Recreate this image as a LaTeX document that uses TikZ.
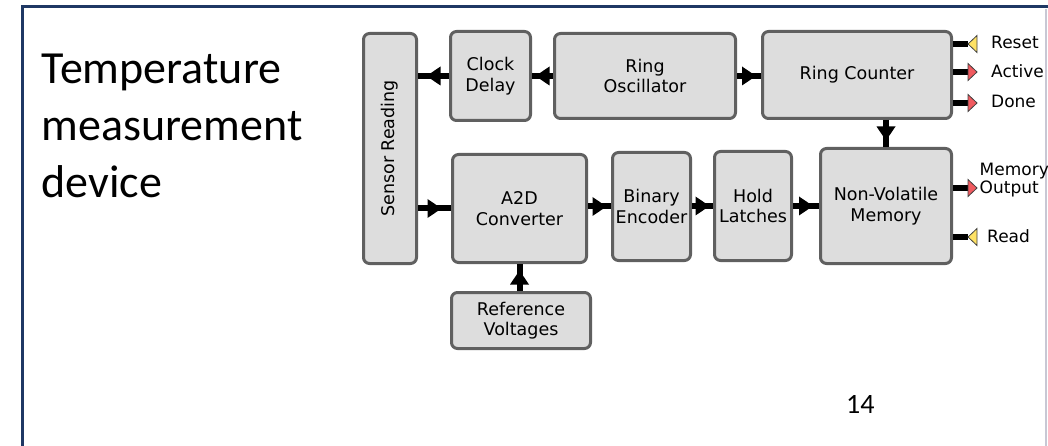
\documentclass[tikz,border=0pt]{standalone}
\usepackage{fontspec}
\setmainfont{DejaVu Sans}
\newfontfamily\titlefont{Carlito}
\usetikzlibrary{decorations.markings}
\definecolor{boxfill}{RGB}{221,221,221}
\definecolor{boxline}{RGB}{96,96,96}
\definecolor{navy}{RGB}{31,56,100}
\definecolor{sigyellow}{RGB}{255,226,100}
\definecolor{sigred}{RGB}{240,90,95}
\definecolor{framegray}{RGB}{200,200,212}
\begin{document}
\begin{tikzpicture}[x=1pt,y=-1pt,
  blk/.style={draw=boxline, fill=boxfill, line width=3pt, rounded corners=6pt,
    inner sep=0pt, align=center, font=\fontsize{17.5}{20.5}\selectfont},
  arr/.style={line width=6pt, decoration={markings, mark=at position 0.5 with
    {\fill (-7pt,-9.5pt) -- (7pt,0pt) -- (-7pt,9.5pt) -- cycle;}},
    postaction={decorate}},
  sig/.style={line width=5.5pt},
  tri/.style={draw=black!75, line width=0.8pt, line join=miter},
  lbl/.style={font=\fontsize{17}{17.5}\selectfont, inner sep=0pt, align=left},
]
\useasboundingbox (0,0) rectangle (1048,446);
% frame
\draw[navy, line width=3pt] (22,446) -- (22,7) -- (1048,7);
\draw[framegray, line width=1.5pt] (1046,9) -- (1046,446);
% title and page number
\node[anchor=north west, inner sep=0pt, align=left,
  font=\titlefont\fontsize{46}{57}\selectfont] (title) at (41.5,53.4)
  {Temperature\\measurement\\device};
\node[anchor=base west, inner sep=0pt, font=\titlefont\fontsize{28}{32}\selectfont]
  (page) at (846,413) {14};
% blocks
\node[blk, minimum width=53pt, minimum height=230pt] (sensor) at (390,148.5)
  {\rotatebox{90}{Sensor Reading}};
\node[blk, minimum width=80pt, minimum height=89pt] (clock) at (490.5,76) {Clock\\Delay};
\node[blk, minimum width=181pt, minimum height=85pt] (osc) at (645,76) {Ring\\Oscillator};
\node[blk, minimum width=189pt, minimum height=87pt] (counter) at (857,75) {Ring Counter};
\node[blk, minimum width=134pt, minimum height=108pt] (a2d) at (519.5,208.5) {A2D\\Converter};
\node[blk, minimum width=78pt, minimum height=108pt] (binary) at (651.5,206.5) {Binary\\Encoder};
\node[blk, minimum width=77pt, minimum height=109pt] (hold) at (753,206) {Hold\\Latches};
\node[blk, minimum width=131pt, minimum height=115pt] (nvm) at (886,206) {Non-Volatile\\Memory};
\node[blk, minimum width=139pt, minimum height=56pt] (ref) at (521,320.5) {Reference\\Voltages};
% connectors
\draw[arr] (osc.west) -- (clock.east);
\draw[arr] (clock.west) -- (clock.west -| sensor.east);
\draw[arr] (osc.east) -- (osc.east -| counter.west);
\draw[arr] (nvm.north |- counter.south) -- (nvm.north);
\draw[arr] (a2d.west -| sensor.east) -- (a2d.west);
\draw[arr] (binary.west -| a2d.east) -- (binary.west);
\draw[arr] (hold.west -| binary.east) -- (hold.west);
\draw[arr] (nvm.west -| hold.east) -- (nvm.west);
\draw[arr] (a2d.south |- ref.north) -- (a2d.south);
% signals
\coordinate (rst) at (968,44);
\coordinate (act) at (968,72);
\coordinate (don) at (968,103);
\coordinate (mout) at (968,188);
\coordinate (rd) at (968,237);
\draw[sig] (rst -| counter.east) -- (rst);
\draw[sig] (act -| counter.east) -- (act);
\draw[sig] (don -| counter.east) -- (don);
\draw[sig] (mout -| nvm.east) -- (mout);
\draw[sig] (rd -| nvm.east) -- (rd);
\filldraw[tri, fill=sigyellow] (rst) -- ++(9,-8.5) -- ++(0,17) -- cycle;
\filldraw[tri, fill=sigred] (act) ++(0,-8.5) -- ++(9,8.5) -- ++(-9,8.5) -- cycle;
\filldraw[tri, fill=sigred] (don) ++(0,-8.5) -- ++(9,8.5) -- ++(-9,8.5) -- cycle;
\filldraw[tri, fill=sigred] (mout) ++(0,-8.5) -- ++(9,8.5) -- ++(-9,8.5) -- cycle;
\filldraw[tri, fill=sigyellow] (rd) -- ++(9,-8.5) -- ++(0,17) -- cycle;
\node[lbl, anchor=base west] (lrst) at (991,49) {Reset};
\node[lbl, anchor=base west] (lact) at (991,78) {Active};
\node[lbl, anchor=base west] (ldon) at (991,108) {Done};
\node[lbl, anchor=west] (lmout) at (979.5,180) {Memory\\Output};
\node[lbl, anchor=base west] (lrd) at (987,243) {Read};
\end{tikzpicture}
\end{document}
